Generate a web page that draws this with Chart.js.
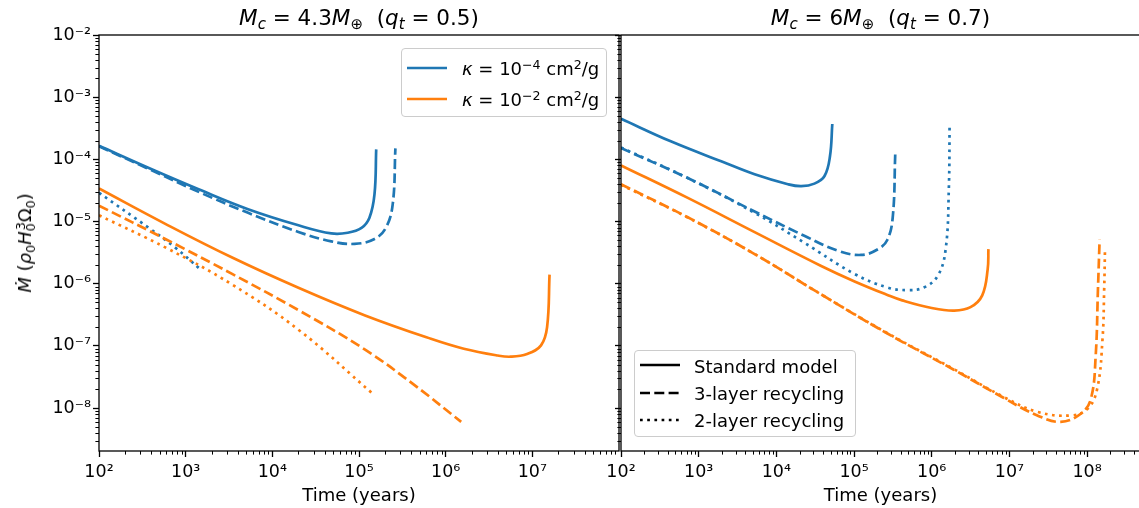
<!DOCTYPE html>
<html>
<head>
<meta charset="utf-8">
<script src="https://cdn.jsdelivr.net/npm/chart.js@4.4.0/dist/chart.umd.min.js"></script>
<style>
    body { margin: 0; width: 1139px; height: 508px; overflow: hidden; background: #fff; position: relative; font-family: 'DejaVu Sans', sans-serif; color: #000; }
    canvas { position: absolute; top: 0; }
    #chartA { left: 0; }
    #chartB { left: 600px; }
    .txt { position: absolute; white-space: nowrap; font-size: 18px; line-height: 18px; }
    .titulo { position: absolute; top: 7px; text-align: center; white-space: nowrap; font-size: 21.5px; line-height: 21.5px; }
    .sub { font-size: 70%; position: relative; top: 0.28em; }
    .sup { font-size: 70%; position: relative; top: -0.45em; }
    .leg { position: absolute; border: 1px solid #ccc; border-radius: 4px; background: rgba(255,255,255,0.8); box-sizing: border-box; }
    svg { position: absolute; overflow: visible; }
</style>
</head>
<body>
<canvas id="chartA" width="620" height="508"></canvas>
<canvas id="chartB" width="560" height="508"></canvas>

<div class="titulo" style="left:99px; width:520px;"><i>M</i><span class="sub"><i>c</i></span> = 4.3<i>M</i><span class="sub">⊕</span>&nbsp; (<i>q</i><span class="sub"><i>t</i></span> = 0.5)</div>
<div class="titulo" style="left:621px; width:519px;"><i>M</i><span class="sub"><i>c</i></span> = 6<i>M</i><span class="sub">⊕</span>&nbsp; (<i>q</i><span class="sub"><i>t</i></span> = 0.7)</div>

<div class="txt" style="left:25.5px; top:243px; transform: translate(-50%, -50%) rotate(-90deg);"><i>Ṁ</i> (<i>ρ</i><span class="sub">0</span><i>H</i><span class="sub">0</span><span class="sup" style="margin-left:-0.55em">3</span>Ω<span class="sub">0</span>)</div>

<!-- legenda painel esquerdo -->
<div class="leg" style="left:401px; top:48px; width:206px; height:69px;"></div>
<svg style="left:407px; top:68px;" width="40" height="1"><line x1="0" y1="0" x2="40" y2="0" stroke="#1f77b4" stroke-width="2.7"/></svg>
<svg style="left:407px; top:99px;" width="40" height="1"><line x1="0" y1="0" x2="40" y2="0" stroke="#ff7f0e" stroke-width="2.7"/></svg>
<div class="txt" style="left:462px; top:60px;"><i>κ</i> = 10<span class="sup">−4</span> cm<span class="sup">2</span>/g</div>
<div class="txt" style="left:462px; top:91px;"><i>κ</i> = 10<span class="sup">−2</span> cm<span class="sup">2</span>/g</div>

<!-- legenda painel direito -->
<div class="leg" style="left:634px; top:350px; width:222px; height:87px;"></div>
<svg style="left:640px; top:365px;" width="40" height="1"><line x1="0" y1="0" x2="40" y2="0" stroke="#000" stroke-width="2.7"/></svg>
<svg style="left:640px; top:393px;" width="40" height="1"><line x1="0" y1="0" x2="40" y2="0" stroke="#000" stroke-width="2.7" stroke-dasharray="10 4.3"/></svg>
<svg style="left:640px; top:420px;" width="40" height="1"><line x1="0" y1="0" x2="40" y2="0" stroke="#000" stroke-width="2.7" stroke-dasharray="2.7 4.5"/></svg>
<div class="txt" style="left:694px; top:357.5px;">Standard model</div>
<div class="txt" style="left:694px; top:385px;">3-layer recycling</div>
<div class="txt" style="left:694px; top:412px;">2-layer recycling</div>

<script>
// eixos (expoentes das decadas)
const yDecadas = [-8, -7, -6, -5, -4, -3, -2];
const xDecadasA = [2, 3, 4, 5, 6, 7];
const xDecadasB = [2, 3, 4, 5, 6, 7, 8];

// painel A: Mc = 4.3 M_terra (qt = 0.5)
const aK4PadraoT = [100, 376, 1410, 5250, 20000, 47900, 74100, 107000, 132000, 151000, 158000];
const aK4PadraoM = [1.65e-4, 7.25e-5, 3.3e-5, 1.58e-5, 8.7e-6, 6.45e-6, 6.6e-6, 7.9e-6, 1.15e-5, 2.75e-5, 1.45e-4];
const aK4TresT = [100, 376, 1410, 5250, 20000, 47900, 89100, 151000, 204000, 245000, 263000];
const aK4TresM = [1.62e-4, 7.0e-5, 3.0e-5, 1.38e-5, 6.8e-6, 4.8e-6, 4.37e-6, 5.25e-6, 7.9e-6, 1.9e-5, 1.5e-4];
const aK4DuasT = [100, 376, 759, 1480];
const aK4DuasM = [2.9e-5, 7.9e-6, 3.8e-6, 1.7e-6];

const aK2PadraoT = [100, 589, 3390, 20000, 117500, 676000, 1.62e6, 3.98e6, 5.62e6, 8.7e6, 1.26e7, 1.48e7, 1.58e7];
const aK2PadraoM = [3.4e-5, 9.1e-6, 2.66e-6, 8.6e-7, 3.09e-7, 1.3e-7, 9.0e-8, 7.0e-8, 6.7e-8, 7.4e-8, 1.02e-7, 2.0e-7, 1.4e-6];
const aK2TresT = [100, 589, 3390, 20000, 117500, 437000, 1.51e6];
const aK2TresM = [1.8e-5, 5.19e-6, 1.45e-6, 3.76e-7, 8.7e-8, 2.34e-8, 6.0e-9];
const aK2DuasT = [100, 589, 3390, 20000, 144500];
const aK2DuasM = [1.26e-5, 3.8e-6, 9.8e-7, 1.82e-7, 1.7e-8];

// painel B: Mc = 6 M_terra (qt = 0.7)
const bK4PadraoT = [100, 437, 1950, 5250, 14100, 20900, 30900, 41700, 49000, 52500];
const bK4PadraoM = [4.5e-4, 1.95e-4, 9.3e-5, 5.75e-5, 3.98e-5, 3.7e-5, 4.07e-5, 5.4e-5, 1.12e-4, 3.7e-4];
const bK4TresT = [100, 724, 5250, 22900, 61700, 123000, 200000, 269000, 316000, 339000];
const bK4TresM = [1.52e-4, 5.0e-5, 1.45e-5, 5.9e-6, 3.4e-6, 2.9e-6, 3.55e-6, 5.1e-6, 1.23e-5, 1.2e-4];
const bK4DuasT = [100, 724, 5250, 22900, 100000, 269000, 490000, 794000, 1.2e6, 1.51e6, 1.66e6, 1.70e6];
const bK4DuasM = [1.55e-4, 5.0e-5, 1.38e-5, 4.57e-6, 1.45e-6, 8.7e-7, 7.9e-7, 8.7e-7, 1.35e-6, 3.55e-6, 3.3e-5, 3.8e-4];

const bK2PadraoT = [100, 724, 5250, 37200, 100000, 269000, 417000, 1.0e6, 1.95e6, 3.16e6, 4.47e6, 5.25e6, 5.37e6];
const bK2PadraoM = [8.0e-5, 2.4e-5, 6.76e-6, 1.95e-6, 1.1e-6, 6.6e-7, 5.4e-7, 4.07e-7, 3.7e-7, 4.2e-7, 6.5e-7, 1.7e-6, 3.6e-6];
const bK2TresT = [100, 724, 5250, 37200, 269000, 1.95e6, 8.5e6, 2.29e7, 4.57e7, 8.3e7, 1.12e8, 1.29e8, 1.38e8, 1.45e8];
const bK2TresM = [3.98e-5, 1.17e-5, 3.0e-6, 6.8e-7, 1.58e-7, 4.1e-8, 1.45e-8, 7.6e-9, 6.0e-9, 8.1e-9, 1.41e-8, 6.9e-8, 8.1e-7, 5.1e-6];
const bK2DuasT = [100, 724, 5250, 37200, 269000, 1.95e6, 8.5e6, 2.29e7, 6.2e7, 1.02e8, 1.35e8, 1.58e8, 1.66e8, 1.70e8];
const bK2DuasM = [3.9e-5, 1.16e-5, 3.0e-6, 6.8e-7, 1.6e-7, 4.2e-8, 1.5e-8, 8.7e-9, 7.6e-9, 9.8e-9, 2.04e-8, 1.29e-7, 8.1e-7, 3.55e-6];

const azul = '#1f77b4';
const laranja = '#ff7f0e';
const tracejado = [10, 4.3];
const pontilhado = [2.7, 4.5];
const fonte = "'DejaVu Sans'";

const supChars = {'0':'⁰','1':'¹','2':'²','3':'³','4':'⁴','5':'⁵','6':'⁶','7':'⁷','8':'⁸','9':'⁹','-':'⁻'};
function rotuloPot(v) {
    const e = Math.round(Math.log10(v));
    return '10' + String(e).split('').map(c => supChars[c]).join('');
}

function serie(t, m, cor, traco) {
    return {
        data: t.map((v, i) => ({x: v, y: m[i]})),
        borderColor: cor,
        borderWidth: 2.7,
        borderDash: traco,
        showLine: true,
        pointRadius: 0,
        tension: 0.4,
        fill: false
    };
}

// moldura + ticks menores
const moldura = {
    id: 'moldura',
    afterDraw(chart) {
        const ctx = chart.ctx;
        const a = chart.chartArea;
        ctx.save();
        ctx.strokeStyle = '#000';
        ctx.lineWidth = 1;
        ['x', 'y'].forEach(id => {
            const s = chart.scales[id];
            const lo = Math.floor(Math.log10(s.min));
            const hi = Math.ceil(Math.log10(s.max));
            for (let d = lo; d < hi; d++) {
                for (let k = 2; k <= 9; k++) {
                    const v = k * Math.pow(10, d);
                    if (v < s.min || v > s.max) continue;
                    const p = Math.round(s.getPixelForValue(v)) + 0.5;
                    ctx.beginPath();
                    if (id === 'x') { ctx.moveTo(p, a.bottom); ctx.lineTo(p, a.bottom + 3.6); }
                    else { ctx.moveTo(a.left, p); ctx.lineTo(a.left - 3.6, p); }
                    ctx.stroke();
                }
            }
        });
        ctx.lineWidth = 1.3;
        ctx.strokeRect(a.left, a.top, a.right - a.left, a.bottom - a.top);
        ctx.restore();
    }
};

function opcoes(xMax, xDec, comRotuloY, larguraY, padDireita) {
    return {
        responsive: false,
        animation: false,
        devicePixelRatio: 1,
        layout: { padding: { top: 35, right: padDireita, left: 0, bottom: 0 } },
        plugins: { legend: { display: false }, tooltip: { enabled: false } },
        scales: {
            x: {
                type: 'logarithmic',
                min: 100,
                max: xMax,
                afterBuildTicks: s => { s.ticks = xDec.map(e => ({ value: Math.pow(10, e) })); },
                afterFit: s => { s.height = 57; },
                ticks: { autoSkip: false, maxRotation: 0, padding: 5, color: '#000', font: { family: fonte, size: 17.5 }, callback: v => rotuloPot(v) },
                grid: { drawOnChartArea: false, tickLength: 6, tickWidth: 1.3, tickColor: '#000' },
                border: { display: false },
                title: { display: true, text: 'Time (years)', color: '#000', font: { family: fonte, size: 18 }, padding: { top: 0, bottom: 1 } }
            },
            y: {
                type: 'logarithmic',
                min: 2.04e-9,
                max: 1e-2,
                afterBuildTicks: s => { s.ticks = yDecadas.map(e => ({ value: Math.pow(10, e) })); },
                afterFit: s => { s.width = larguraY; },
                ticks: { autoSkip: false, padding: 2, color: '#000', font: { family: fonte, size: 17.5 }, callback: v => comRotuloY ? rotuloPot(v) : '' },
                grid: { drawOnChartArea: false, tickLength: 6, tickWidth: 1.3, tickColor: '#000' },
                border: { display: false }
            }
        }
    };
}

const dadosA = [
    serie(aK4PadraoT, aK4PadraoM, azul, []),
    serie(aK4TresT, aK4TresM, azul, tracejado),
    serie(aK4DuasT, aK4DuasM, azul, pontilhado),
    serie(aK2PadraoT, aK2PadraoM, laranja, []),
    serie(aK2TresT, aK2TresM, laranja, tracejado),
    serie(aK2DuasT, aK2DuasM, laranja, pontilhado)
].reverse();

const dadosB = [
    serie(bK4PadraoT, bK4PadraoM, azul, []),
    serie(bK4TresT, bK4TresM, azul, tracejado),
    serie(bK4DuasT, bK4DuasM, azul, pontilhado),
    serie(bK2PadraoT, bK2PadraoM, laranja, []),
    serie(bK2TresT, bK2TresM, laranja, tracejado),
    serie(bK2DuasT, bK2DuasM, laranja, pontilhado)
].reverse();

new Chart(document.getElementById('chartA'), {
    type: 'scatter',
    data: { datasets: dadosA },
    options: opcoes(1e8, xDecadasA, true, 99, 1),
    plugins: [moldura]
});

new Chart(document.getElementById('chartB'), {
    type: 'scatter',
    data: { datasets: dadosB },
    options: opcoes(4.8e8, xDecadasB, false, 21, 20),
    plugins: [moldura]
});
</script>
</body>
</html>
